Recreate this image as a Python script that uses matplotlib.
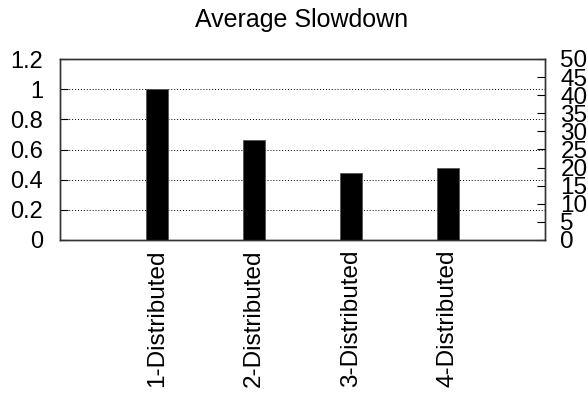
import matplotlib
matplotlib.use("Agg")
import matplotlib.pyplot as plt
import numpy as np

plt.rcParams['font.family'] = ['Liberation Sans', 'DejaVu Sans']

# data
categories = ["1-Distributed", "2-Distributed", "3-Distributed", "4-Distributed"]
slowdown = [1.0, 0.66, 0.442, 0.478]
left_ticks = [0, 0.2, 0.4, 0.6, 0.8, 1, 1.2]
left_labels = ["0", "0.2", "0.4", "0.6", "0.8", "1", "1.2"]
right_ticks = list(range(0, 55, 5))

fig = plt.figure(figsize=(5.88, 3.96), dpi=100)
ax = fig.add_axes([60/588, 1-240/396, 485/588, 181/396])

xpos = np.arange(1, len(categories)+1)
ax.bar(xpos, slowdown, width=0.23, color='black', edgecolor='#555555', linewidth=0.6, zorder=3)

ax.set_xlim(0, 5)
ax.set_ylim(0, 1.2)
ax.set_yticks(left_ticks)
ax.set_yticklabels(left_labels)
ax.set_xticks(xpos)
ax.set_xticklabels(categories, rotation=90, va='top', ha='center')

for y in left_ticks[1:-1]:
    ax.axhline(y, color='black', linestyle=(0, (1, 2)), linewidth=0.7, zorder=1)

ax.tick_params(axis='y', direction='in', length=6, pad=12, labelsize=17)
ax.tick_params(axis='x', length=0, pad=7, labelsize=17.5)
for s in ax.spines.values():
    s.set_linewidth(1.0)
    s.set_color('#333333')

ax2 = ax.twinx()
ax2.set_ylim(0, 50)
ax2.set_yticks(right_ticks)
ax2.tick_params(axis='y', direction='in', length=6, pad=11, labelsize=17.5)
for s in ax2.spines.values():
    s.set_linewidth(1.0)
    s.set_color('#333333')

fig.text(302/588, 1-20/396, "Average Slowdown", ha='center', va='center', fontsize=18)

fig.savefig("out.png", dpi=100)
